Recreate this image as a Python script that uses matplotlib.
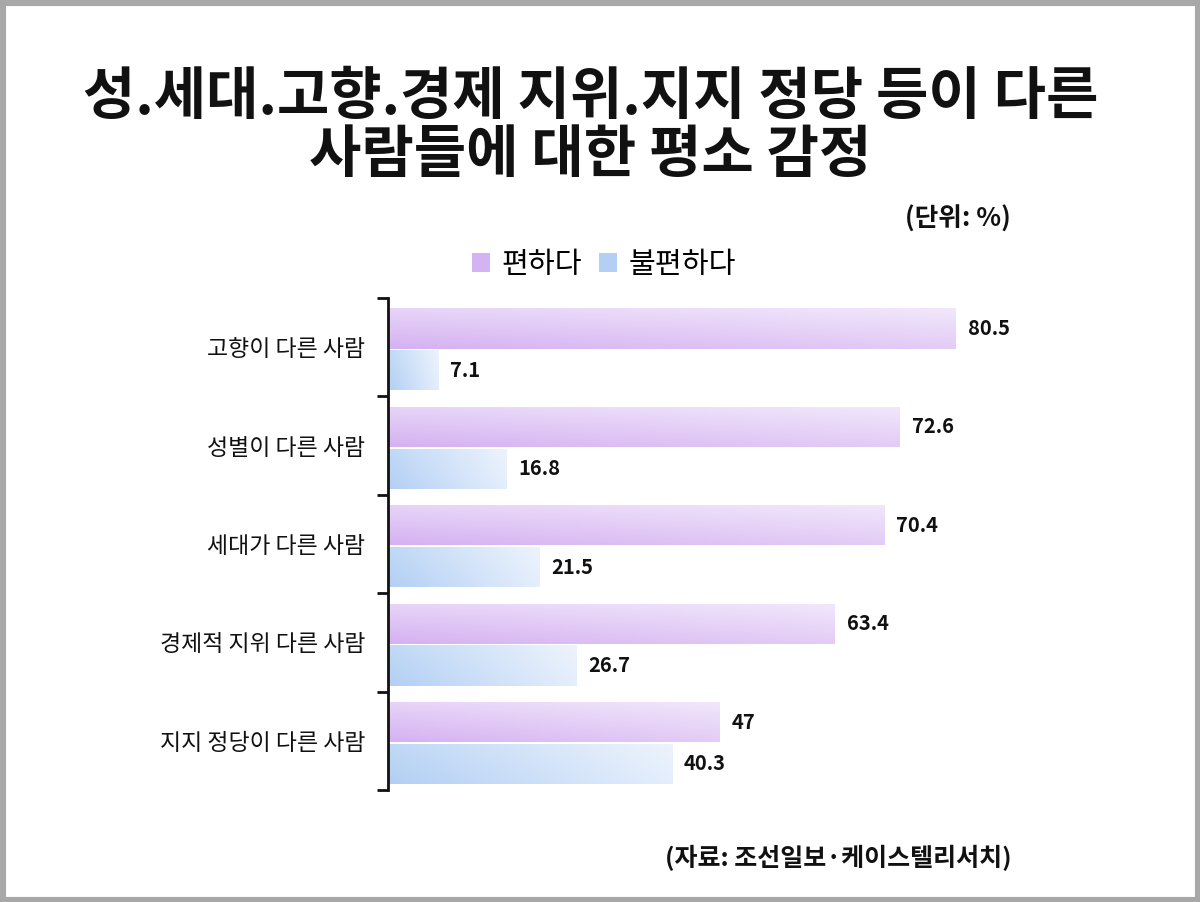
import numpy as np
import matplotlib
matplotlib.use("Agg")
import matplotlib.pyplot as plt
from matplotlib.patches import Rectangle, Patch
from matplotlib.colors import to_rgb

plt.rcParams['font.family'] = ['Noto Sans CJK KR', 'DejaVu Sans']

# data
categories = ["고향이 다른 사람", "성별이 다른 사람", "세대가 다른 사람",
              "경제적 지위 다른 사람", "지지 정당이 다른 사람"]
comfortable = [80.5, 72.6, 70.4, 63.4, 47]
uncomfortable = [7.1, 16.8, 21.5, 26.7, 40.3]
value_labels_a = ["80.5", "72.6", "70.4", "63.4", "47"]
value_labels_b = ["7.1", "16.8", "21.5", "26.7", "40.3"]
series_names = ["편하다", "불편하다"]

# corner colours for the bar gradients: (bottom-left, top-left, bottom-right, top-right)
purple_corners = ["#d5b2f2", "#e7d4f8", "#e3ccf6", "#f1e7fb"]
blue_corners = ["#b3cff4", "#c0d9f6", "#e4eefc", "#edf3fd"]


def gradient_img(corners, nx=64, ny=16):
    bl, tl, br, tr = [np.array(to_rgb(c)) for c in corners]
    u = np.linspace(0, 1, nx)[None, :, None]
    v = np.linspace(0, 1, ny)[:, None, None]
    bottom = bl * (1 - u) + br * u
    top = tl * (1 - u) + tr * u
    return bottom * (1 - v) + top * v


def gradient_bar(ax, x, yc, h, corners):
    rect = Rectangle((0, yc - h / 2), x, h, facecolor="none", edgecolor="none")
    ax.add_patch(rect)
    im = ax.imshow(gradient_img(corners), extent=[0, x, yc + h / 2, yc - h / 2],
                   origin="lower", aspect="auto", interpolation="bilinear", zorder=2)
    im.set_clip_path(rect)


fig = plt.figure(figsize=(12, 9.02), dpi=100)
fig.patch.set_facecolor("white")
ax = fig.add_axes([388 / 1200, 1 - 790 / 902, 705 / 1200, 492 / 902])

h = 0.41
for i in range(len(categories)):
    gradient_bar(ax, comfortable[i], i + 0.31, h, purple_corners)
    gradient_bar(ax, uncomfortable[i], i + 0.735, h, blue_corners)
    ax.text(comfortable[i] + 1.7, i + 0.31, value_labels_a[i], va="center", ha="left",
            fontsize=14.5, fontweight="bold", color="#111111")
    ax.text(uncomfortable[i] + 1.7, i + 0.735, value_labels_b[i], va="center", ha="left",
            fontsize=14.5, fontweight="bold", color="#111111")

ax.set_xlim(0, 100)
ax.set_ylim(len(categories), 0)
ax.set_yticks(np.arange(len(categories) + 1))
ax.set_yticklabels([])
ax.set_yticks(np.arange(len(categories)) + 0.5, minor=True)
ax.set_yticklabels(categories, minor=True, fontsize=16.5, fontweight="medium", color="#111111")
ax.tick_params(axis="y", which="major", length=8, width=2, direction="out", color="#111111")
ax.tick_params(axis="y", which="minor", length=0, pad=16.5)
ax.set_xticks([])
for side in ["top", "right", "bottom"]:
    ax.spines[side].set_visible(False)
ax.spines["left"].set_linewidth(2)
ax.spines["left"].set_color("#111111")

# titles and notes
fig.text(0.492, 1 - 97 / 902, "성.세대.고향.경제 지위.지지 정당 등이 다른", ha="center", va="center",
         fontsize=41, fontweight="bold", color="#111111")
fig.text(0.492, 1 - 155 / 902, "사람들에 대한 평소 감정", ha="center", va="center",
         fontsize=41, fontweight="bold", color="#111111")
fig.text(1011 / 1200, 1 - 219 / 902, "(단위: %)", ha="right", va="center",
         fontsize=18.5, fontweight="bold", color="#111111")
fig.text(1012 / 1200, 1 - 858 / 902, "(자료: 조선일보·케이스텔리서치)", ha="right", va="center",
         fontsize=18, fontweight="bold", color="#111111")

handles = [Patch(facecolor=purple_corners[0], edgecolor="none"),
           Patch(facecolor=blue_corners[0], edgecolor="none")]
fig.legend(handles, series_names, loc="center", bbox_to_anchor=(604 / 1200, 1 - 265 / 902),
           ncol=2, frameon=False, fontsize=21, handlelength=0.6, handleheight=0.6,
           handletextpad=0.4, columnspacing=0.6)

# grey frame around the picture
fig.patches.append(Rectangle((0, 0), 1, 1, transform=fig.transFigure, fill=False,
                             edgecolor="#a8a8a8", linewidth=8, zorder=10))

fig.savefig("out.png", dpi=100)
